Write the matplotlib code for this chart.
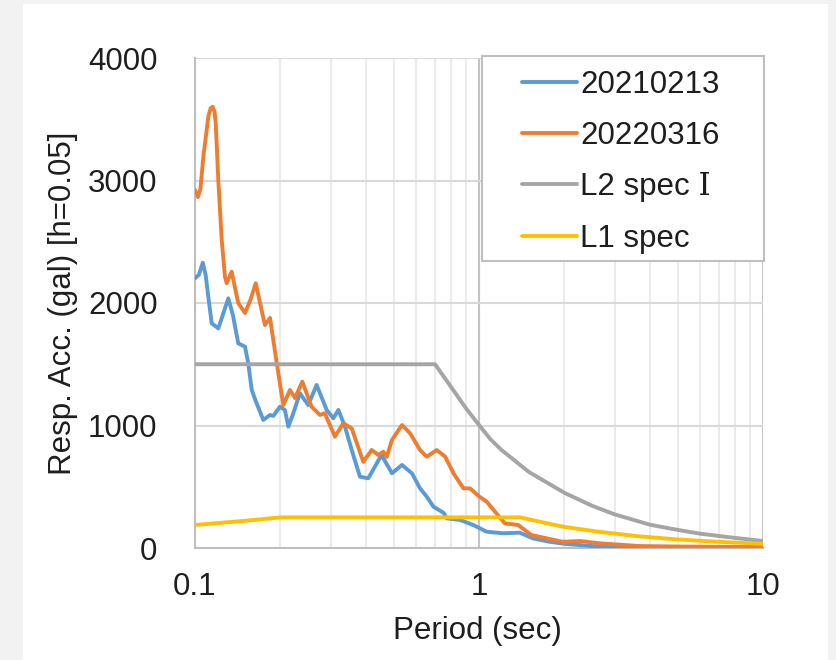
import matplotlib
matplotlib.use("Agg")
import matplotlib.pyplot as plt
from matplotlib.patches import Rectangle

plt.rcParams['font.family'] = ['Liberation Sans', 'DejaVu Serif', 'DejaVu Sans']

# 20210213 record (period sec, acc gal)
t_2021 = [0.1, 0.1032, 0.1065, 0.109, 0.1114, 0.1145, 0.1208, 0.126, 0.131, 0.136, 0.142, 0.15, 0.154, 0.1584,
          0.1648, 0.174, 0.1837, 0.1887, 0.1991, 0.2073, 0.2131, 0.2219, 0.2341, 0.2505,
          0.268, 0.2909, 0.3069, 0.3197, 0.3374, 0.3563, 0.3809, 0.4075, 0.4536, 0.4938,
          0.5356, 0.5806, 0.6198, 0.6548, 0.6915, 0.7496, 0.7698, 0.8576, 0.9541, 1.064,
          1.215, 1.391, 1.548, 1.771, 2.02, 2.67, 4.0, 6.0, 10.0]
acc_2021 = [2202, 2230, 2329, 2230, 2051, 1834, 1793, 1920, 2038, 1900, 1671, 1643, 1508, 1290,
            1181, 1045, 1086, 1078, 1153, 1127, 990, 1100, 1263, 1167,
            1331, 1127, 1059, 1127, 990, 800, 582, 569, 759, 610,
            678, 610, 487, 419, 337, 288, 242, 229, 188, 133,
            120, 125, 79, 51, 33, 11, 6, 4, 3]

# 20220316 record
t_2022 = [0.1, 0.1024, 0.1045, 0.107, 0.1114, 0.1135, 0.1154, 0.1172, 0.1183, 0.1208, 0.1242, 0.1275, 0.1293,
          0.1346, 0.142, 0.15, 0.157, 0.1636, 0.1763, 0.1837, 0.194, 0.2046, 0.2159, 0.2249, 0.2387,
          0.2575, 0.2753, 0.2866, 0.311, 0.3327, 0.3563, 0.3913, 0.419, 0.4421, 0.4604,
          0.4736, 0.4938, 0.5356, 0.5721, 0.6198, 0.6548, 0.7101, 0.7604, 0.8133, 0.8812,
          0.9292, 1.0035, 1.065, 1.139, 1.234, 1.373, 1.53, 1.728, 1.972, 2.27,
          2.67, 3.67, 5.0, 7.0, 10.0]
acc_2022 = [2922, 2865, 2930, 3194, 3521, 3590, 3602, 3560, 3467, 3004, 2514, 2215, 2161,
            2256, 2000, 1918, 2030, 2161, 1820, 1878, 1510, 1167, 1290, 1224, 1358,
            1153, 1086, 1100, 909, 1018, 977, 704, 800, 759, 786,
            745, 882, 1004, 936, 800, 745, 800, 745, 610, 487,
            487, 419, 378, 296, 201, 188, 106, 79, 51, 57,
            38, 16, 12, 10, 8]

# L2 spec I
t_l2 = [0.1, 0.7, 0.8, 0.9, 1.0, 1.1, 1.2, 1.5, 2.0, 2.5, 3.0, 4.0, 5.0, 6.0, 8.0, 10.0]
acc_l2 = [1500, 1500, 1310, 1140, 1004, 885, 800, 620, 450, 345, 275, 190, 148, 117, 82, 57]

# L1 spec
t_l1 = [0.1, 0.15, 0.2, 1.4, 1.7, 2.0, 2.67, 3.67, 5.0, 7.0, 10.0]
acc_l1 = [188, 222, 250, 250, 206, 172, 131, 95, 70, 50, 35]

labels = ["20210213", "20220316", "L2 spec \u2160", "L1 spec"]
colors = ["#5B9BD5", "#ED7D31", "#A5A5A5", "#FFC000"]

fig = plt.figure(figsize=(8.36, 6.6), dpi=100, facecolor="#f2f2f2")
bg = Rectangle((23 / 836, 0), (828 - 23) / 836, (660 - 4) / 660,
               transform=fig.transFigure, facecolor="white", edgecolor="none", zorder=-10)
fig.add_artist(bg)
ax = fig.add_axes([195 / 836, 1 - 548 / 660, (763 - 195) / 836, (548 - 58) / 660])
ax.set_zorder(1)
ax.set_facecolor("white")

series = [(t_2021, acc_2021), (t_2022, acc_2022), (t_l2, acc_l2), (t_l1, acc_l1)]
handles = []
for (t, a), lab, col in zip(series, labels, colors):
    h, = ax.plot(t, a, color=col, lw=2.8, label=lab, solid_joinstyle="round",
                 solid_capstyle="round", zorder=3)
    handles.append(h)

ax.set_xscale("log")
ax.set_xlim(0.1, 10)
ax.set_ylim(0, 4000)
ax.set_xticks([0.1, 1, 10])
ax.set_xticklabels(["0.1", "1", "10"])
ax.set_xticks([0.2, 0.3, 0.4, 0.5, 0.6, 0.7, 0.8, 0.9, 2, 3, 4, 5, 6, 7, 8, 9], minor=True)
ax.set_xticklabels([], minor=True)
ax.set_yticks([0, 1000, 2000, 3000, 4000])
ax.tick_params(axis="both", which="both", length=0, labelsize=22.5, colors="#1e1e1e")
ax.tick_params(axis="x", pad=17)
ax.tick_params(axis="y", pad=27)

ax.grid(True, which="minor", axis="x", color="#ebebeb", lw=1.5)
ax.grid(True, which="major", axis="x", color="#c4c4c4", lw=1.5)
ax.grid(True, which="major", axis="y", color="#d9d9d9", lw=1.5)
ax.set_axisbelow(True)
for s in ["top", "right"]:
    ax.spines[s].set_visible(False)
for s in ["left", "bottom"]:
    ax.spines[s].set_color("#bfbfbf")
    ax.spines[s].set_linewidth(1.5)

ax.set_ylabel("Resp. Acc. (gal) [h=0.05]", fontsize=22.5, color="#1e1e1e")
ax.yaxis.set_label_coords((78 - 195) / 568, 0.5)
ax.set_xlabel("Period (sec)", fontsize=22.5, color="#1e1e1e")
ax.xaxis.set_label_coords(0.498, (548 - 616) / 490)

# legend box
box = Rectangle((0.505, 0.586), 0.497, 0.418, transform=ax.transAxes,
                facecolor="white", edgecolor="#bfbfbf", lw=1.5, clip_on=False, zorder=5)
ax.add_patch(box)
leg = ax.legend(handles=handles, loc="upper left", bbox_to_anchor=((522 - 195) / 568, 0.976),
                frameon=False, fontsize=22.5, handlelength=1.75, handletextpad=0.12,
                borderpad=0, borderaxespad=0, labelspacing=0.68)
leg.set_zorder(6)
for txt in leg.get_texts():
    txt.set_color("#1e1e1e")

fig.savefig("out.png", dpi=100, facecolor=fig.get_facecolor())
